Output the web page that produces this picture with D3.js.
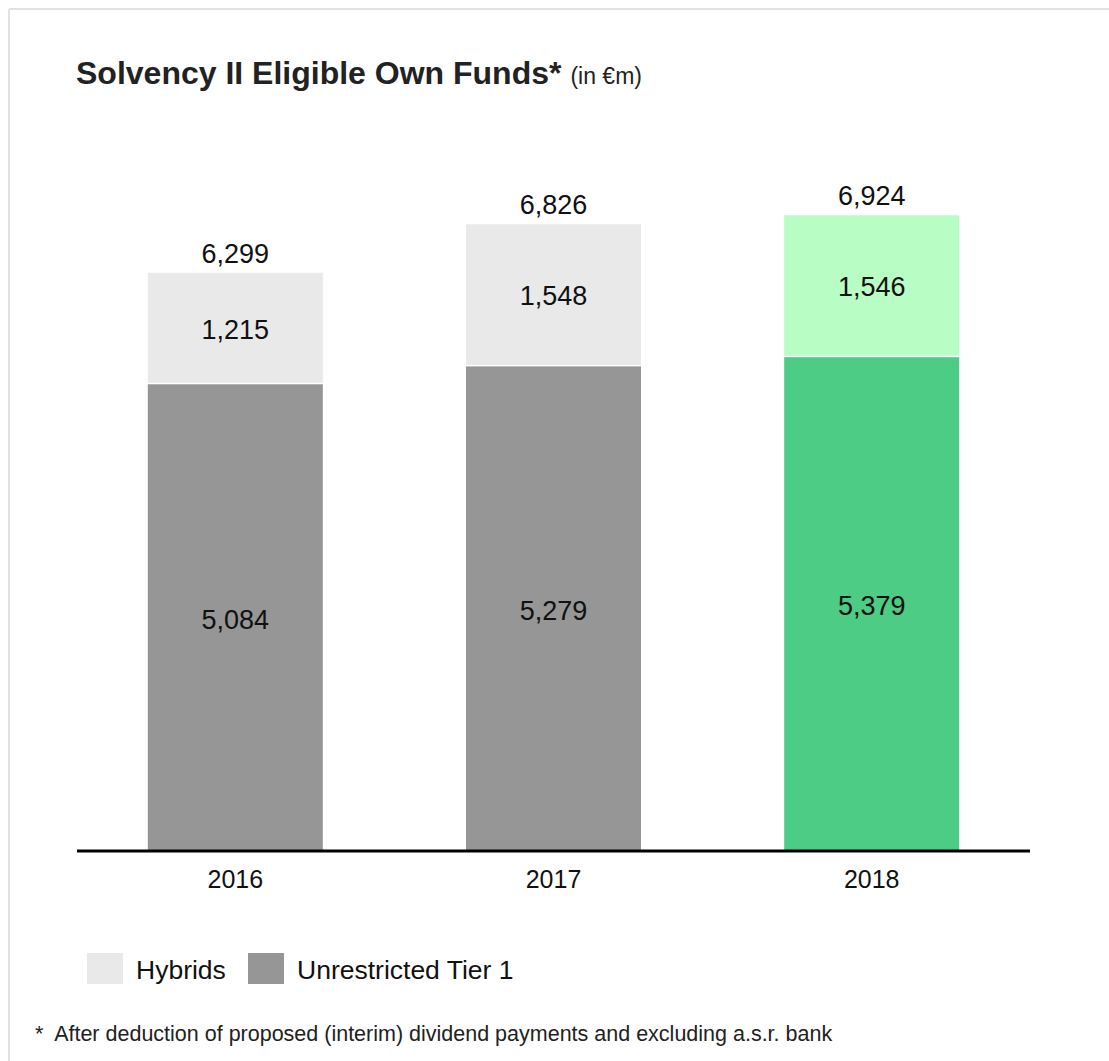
<!DOCTYPE html>
<html>
<head>
<meta charset="utf-8">
<script src="https://cdn.jsdelivr.net/npm/d3@7"></script>
<style>
  html, body { margin: 0; padding: 0; background: #fff; }
  svg { display: block; font-family: "Liberation Sans", Arial, sans-serif; }
</style>
</head>
<body>
<svg id="chart" width="1109" height="1061"></svg>
<script>
// Solvency II eligible own funds, in € millions
const years = ["2016", "2017", "2018"];
const unrestrictedTier1 = [5084, 5279, 5379];
const hybrids = [1215, 1548, 1546];
const totals = [6299, 6826, 6924];
const legendLabels = ["Hybrids", "Unrestricted Tier 1"];

// Older years in grey, the latest year highlighted in green
const colors = {
  tier1: ["#969696", "#969696", "#4ccc84"],
  hybrid: ["#e9e9e9", "#e9e9e9", "#b7fdc4"]
};

const svg = d3.select("#chart");
const fmt = d3.format(",");

// Frame lines (top and left)
svg.append("line").attr("x1", 9).attr("x2", 1109).attr("y1", 9).attr("y2", 9)
  .attr("stroke", "#e2e2e2").attr("stroke-width", 2);
svg.append("line").attr("x1", 9).attr("x2", 9).attr("y1", 9).attr("y2", 1061)
  .attr("stroke", "#e2e2e2").attr("stroke-width", 2);

// Title
const title = svg.append("text").attr("x", 76).attr("y", 84).attr("fill", "#222");
title.append("tspan").attr("font-size", 32).attr("font-weight", "bold")
  .text("Solvency II Eligible Own Funds*");
title.append("tspan").attr("font-size", 23).attr("dx", 9).text("(in €m)");

// Scales
const x = d3.scaleBand().domain(years).range([77, 1030])
  .paddingInner(0.45).paddingOuter(0.2225);
const y = d3.scaleLinear().domain([0, 7000]).range([851, 208.4]);

const data = years.map((yr, i) => ({
  year: yr, i, t1: unrestrictedTier1[i], hy: hybrids[i], total: totals[i]
}));

const g = svg.append("g");
const labelSize = 27;

// Unrestricted Tier 1 segments
g.selectAll("rect.t1").data(data).join("rect").attr("class", "t1")
  .attr("x", d => x(d.year)).attr("width", x.bandwidth())
  .attr("y", d => y(d.t1)).attr("height", d => y(0) - y(d.t1))
  .attr("fill", d => colors.tier1[d.i]);

// Hybrid segments stacked on top, with a thin white gap between
g.selectAll("rect.hy").data(data).join("rect").attr("class", "hy")
  .attr("x", d => x(d.year)).attr("width", x.bandwidth())
  .attr("y", d => y(d.t1 + d.hy)).attr("height", d => y(d.t1) - y(d.t1 + d.hy) - 1.5)
  .attr("fill", d => colors.hybrid[d.i]);

// Segment value labels
g.selectAll("text.t1").data(data).join("text").attr("class", "t1")
  .attr("x", d => x(d.year) + x.bandwidth() / 2)
  .attr("y", d => (y(0) + y(d.t1)) / 2 + 11)
  .attr("text-anchor", "middle").attr("font-size", labelSize).attr("fill", "#111")
  .text(d => fmt(d.t1));
g.selectAll("text.hy").data(data).join("text").attr("class", "hy")
  .attr("x", d => x(d.year) + x.bandwidth() / 2)
  .attr("y", d => (y(d.t1) + y(d.t1 + d.hy)) / 2 + 10)
  .attr("text-anchor", "middle").attr("font-size", labelSize).attr("fill", "#111")
  .text(d => fmt(d.hy));

// Totals above each bar
g.selectAll("text.total").data(data).join("text").attr("class", "total")
  .attr("x", d => x(d.year) + x.bandwidth() / 2)
  .attr("y", d => y(d.total) - 10)
  .attr("text-anchor", "middle").attr("font-size", labelSize).attr("fill", "#111")
  .text(d => fmt(d.total));

// X axis
const xAxis = svg.append("g").attr("transform", "translate(0,851)")
  .call(d3.axisBottom(x).tickSize(0).tickPadding(19));
xAxis.select(".domain").attr("stroke", "#000").attr("stroke-width", 3)
  .attr("d", "M77,0H1030");
xAxis.selectAll("text").attr("font-size", 25).attr("fill", "#111")
  .attr("font-family", "'Liberation Sans', Arial, sans-serif");

// Legend
const legend = svg.append("g").attr("transform", "translate(87,953)");
const legendFill = ["#e9e9e9", "#969696"];
const legendX = [0, 161];
legendLabels.forEach((lab, i) => {
  legend.append("rect").attr("x", legendX[i]).attr("y", 0)
    .attr("width", 36).attr("height", 31).attr("fill", legendFill[i]);
  legend.append("text").attr("x", legendX[i] + 49).attr("y", 26)
    .attr("font-size", 26.5).attr("fill", "#111").text(lab);
});

// Footnote
svg.append("text").attr("x", 35).attr("y", 1041).attr("font-size", 21.5).attr("fill", "#222")
  .attr("xml:space", "preserve").style("white-space", "pre")
  .text("*  After deduction of proposed (interim) dividend payments and excluding a.s.r. bank");
</script>
</body>
</html>
